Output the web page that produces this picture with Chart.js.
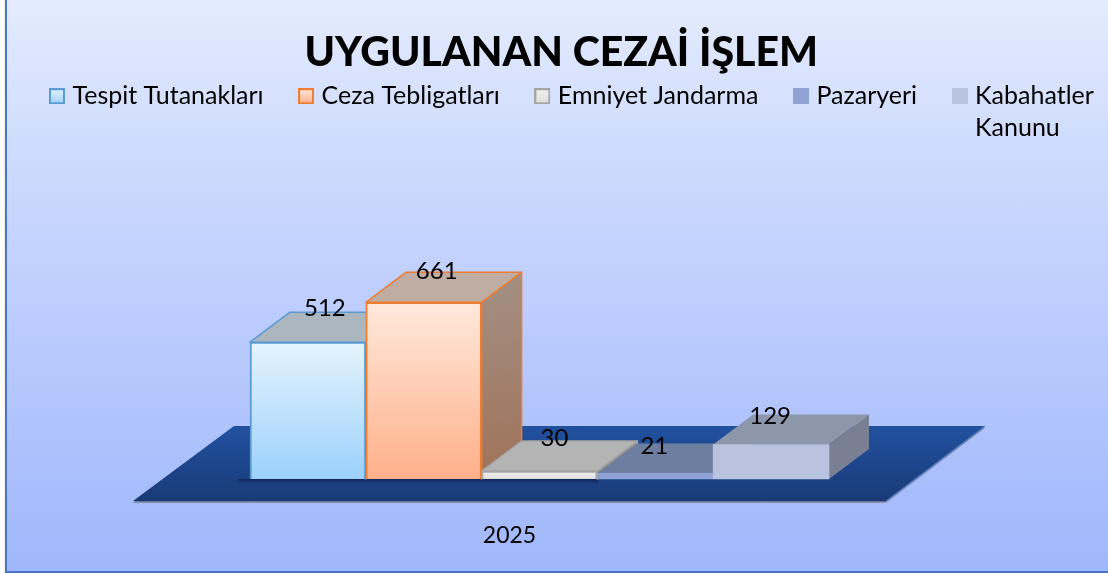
<!DOCTYPE html>
<html lang="tr"><head><meta charset="utf-8">
<script src="https://cdn.jsdelivr.net/npm/chart.js@4"></script>
<style>
html,body{margin:0;padding:0;background:#fff;width:1108px;height:573px;overflow:hidden}
#frame{position:absolute;left:5px;top:-2px;width:1110px;height:571px;border:2px solid #4a76c8;background:linear-gradient(180deg,#e4ebfe 0%,#cfdcfd 25%,#b9cafd 60%,#9fb7fb 100%);box-shadow:0 1px 1px #999}
#c{position:absolute;left:0;top:0}
</style></head><body>
<div id="frame"></div>
<canvas id="c" width="1108" height="573"></canvas>
<script>
const categories = ['2025'];
const seriesNames = ['Tespit Tutanakları','Ceza Tebligatları','Emniyet Jandarma','Pazaryeri',['Kabahatler','Kanunu']];
const seriesValues = [512,661,30,21,129];
const title = 'UYGULANAN CEZAİ İŞLEM';

const FONT = 'Lato, Carlito, Calibri, sans-serif';
const frontTop = ['#e5f4ff','#ffe9dc','#f2f2f2','#8fa2d4','#b9c3e0'];
const frontBot = ['#9dd1fc','#ffb08a','#dedede','#8fa2d4','#b9c3e0'];
const edge     = ['#5b9bd5','#ed7d31','#a5a5a5','#8fa2d4','#b9c3e0'];
const topFace  = ['#acb6bf','#bfada3','#b4b4b4','#6e7ea0','#8d97ab'];
const sideTop  = ['#9aa6b0','#a39085','#8e8e8e','#5f6d90','#7a8093'];
const sideBot  = ['#7d8b96','#a07258','#8e8e8e','#5f6d90','#7a8093'];
const labelShift = [[17,-34],[13,-31],[15,-33],[-1,-27],[-1,-28]];
const DX = 40, DY = 30;
const LEGEND_EXTRA = 50;

function swatch(i){
  const s = document.createElement('canvas'); s.width = s.height = 16;
  const g = s.getContext('2d');
  const lg = g.createLinearGradient(0,0,0,16);
  lg.addColorStop(0,frontTop[i]); lg.addColorStop(1,frontBot[i]);
  g.fillStyle = lg; g.fillRect(0,0,16,16);
  if(i<3){ g.strokeStyle = edge[i]; g.lineWidth = 2; g.strokeRect(1,1,14,14); }
  return s;
}
function poly(ctx,pts,fill,stroke){
  ctx.beginPath(); pts.forEach((p,i)=> i?ctx.lineTo(p[0],p[1]):ctx.moveTo(p[0],p[1])); ctx.closePath();
  ctx.fillStyle = fill; ctx.fill();
  if(stroke){ ctx.strokeStyle = stroke; ctx.lineWidth = 1.5; ctx.stroke(); }
}
// keeps all five legend entries on one row, as in the picture
const legendRow = {
  id:'legendRow',
  beforeLayout(chart){
    const L = chart.legend;
    if(L && !L.__wide){
      const u = L.update.bind(L);
      L.update = (w,h,m) => u(w+LEGEND_EXTRA,h,m);
      L.__wide = true;
    }
  },
  afterLayout(chart){ chart.legend.right += LEGEND_EXTRA; }
};
const floorPlugin = {
  id:'floor',
  beforeDatasetsDraw(chart){
    const {ctx,chartArea:a} = chart, b = a.bottom;
    const g = ctx.createLinearGradient(0,b-53,0,b+22);
    g.addColorStop(0,'#21519f'); g.addColorStop(1,'#193a78');
    ctx.save();
    ctx.shadowColor='rgba(90,90,100,.8)'; ctx.shadowOffsetY=1.5; ctx.shadowBlur=1;
    poly(ctx,[[a.left-117,b+22],[a.left-16,b-53],[a.right+156,b-53],[a.right+57,b+22]],g);
    ctx.shadowColor='transparent';
    ctx.strokeStyle='#4a7fd0'; ctx.lineWidth=1;
    ctx.beginPath(); ctx.moveTo(a.right+57,b+22); ctx.lineTo(a.right+156,b-53); ctx.stroke();
    const s = ctx.createLinearGradient(0,b,0,b+5);
    s.addColorStop(0,'rgba(8,18,50,.55)'); s.addColorStop(1,'rgba(8,18,50,0)');
    ctx.fillStyle = s; ctx.fillRect(a.left-12,b,a.left+110,5);
    ctx.restore();
  }
};
const boxPlugin = {
  id:'box3d',
  beforeDatasetDraw(){ return false; },
  afterDatasetsDraw(chart){
    const {ctx} = chart;
    seriesValues.forEach((v,i)=>{
      const el = chart.getDatasetMeta(i).data[0];
      const l = el.x-el.width/2, r = el.x+el.width/2, t = el.y, b = el.base;
      const st = i<3 ? edge[i] : null;
      ctx.save(); ctx.lineJoin='round';
      poly(ctx,[[l,t],[l+DX,t-DY],[r+DX,t-DY],[r,t]],topFace[i],st);
      const g = ctx.createLinearGradient(r,t-DY,r+DX,b);
      g.addColorStop(0,sideTop[i]); g.addColorStop(1,sideBot[i]);
      poly(ctx,[[r,t],[r+DX,t-DY],[r+DX,b-DY],[r,b]],g,st);
      ctx.restore();
      el.draw(ctx);
    });
    ctx.save();
    ctx.fillStyle='#000'; ctx.font='24px '+FONT; ctx.textAlign='center'; ctx.textBaseline='middle';
    seriesValues.forEach((v,i)=>{
      const el = chart.getDatasetMeta(i).data[0];
      ctx.fillText(String(v), el.x+labelShift[i][0], el.y+labelShift[i][1]);
    });
    // wrapped second line of the last legend entry, placed from the legend's own box
    const hb = chart.legend.legendHitBoxes[4];
    ctx.font='25px '+FONT; ctx.textAlign='left';
    ctx.fillText(seriesNames[4][1], hb.left+18.5, hb.top+12.5+32);
    ctx.restore();
  }
};
new Chart(document.getElementById('c'),{
  type:'bar',
  data:{
    labels:categories,
    datasets:seriesNames.map((n,i)=>({
      label:Array.isArray(n)?n.join(' '):n,
      data:[seriesValues[i]],
      borderColor:edge[i],
      borderWidth:i<3?2:0,
      backgroundColor(c){
        const y = c.chart.scales.y, tp = y.getPixelForValue(seriesValues[i]), bt = y.getPixelForValue(0);
        if(!isFinite(tp)||!isFinite(bt)) return frontTop[i];
        const g = c.chart.ctx.createLinearGradient(0,tp,0,bt);
        g.addColorStop(0,frontTop[i]); g.addColorStop(1,frontBot[i]);
        return g;
      }
    }))
  },
  options:{
    responsive:false, animation:false,
    layout:{padding:{left:14.5,right:0,top:0,bottom:0}},
    datasets:{bar:{categoryPercentage:1,barPercentage:1}},
    scales:{
      x:{grid:{display:false},border:{display:false},
         ticks:{color:'#000',font:{family:FONT,size:23},padding:35,labelOffset:-30,maxRotation:0},
         afterFit(s){s.height=94;}},
      y:{min:0,max:1348,position:'left',grid:{display:false},border:{display:false},ticks:{display:false},
         afterFit(s){s.width=235.5;}},
      yr:{position:'right',grid:{display:false},border:{display:false},ticks:{display:false},
         afterFit(s){s.width=279;}}
    },
    plugins:{
      tooltip:{enabled:false},
      title:{display:true,text:title,color:'#000',font:{family:FONT,size:41,weight:'900',lineHeight:1.2},padding:{top:28,bottom:-33}},
      legend:{display:true,position:'top',align:'start',
        labels:{color:'#000',font:{family:FONT,size:25,lineHeight:1.2},padding:39.5,boxWidth:6,usePointStyle:true,
          generateLabels(){
            return seriesNames.map((n,i)=>({text:Array.isArray(n)?n[0]:n,pointStyle:swatch(i),fillStyle:frontTop[i],strokeStyle:edge[i],lineWidth:0,datasetIndex:i,fontColor:'#000'}));
          }}
      }
    }
  },
  plugins:[legendRow,floorPlugin,boxPlugin]
});
</script>
</body></html>
